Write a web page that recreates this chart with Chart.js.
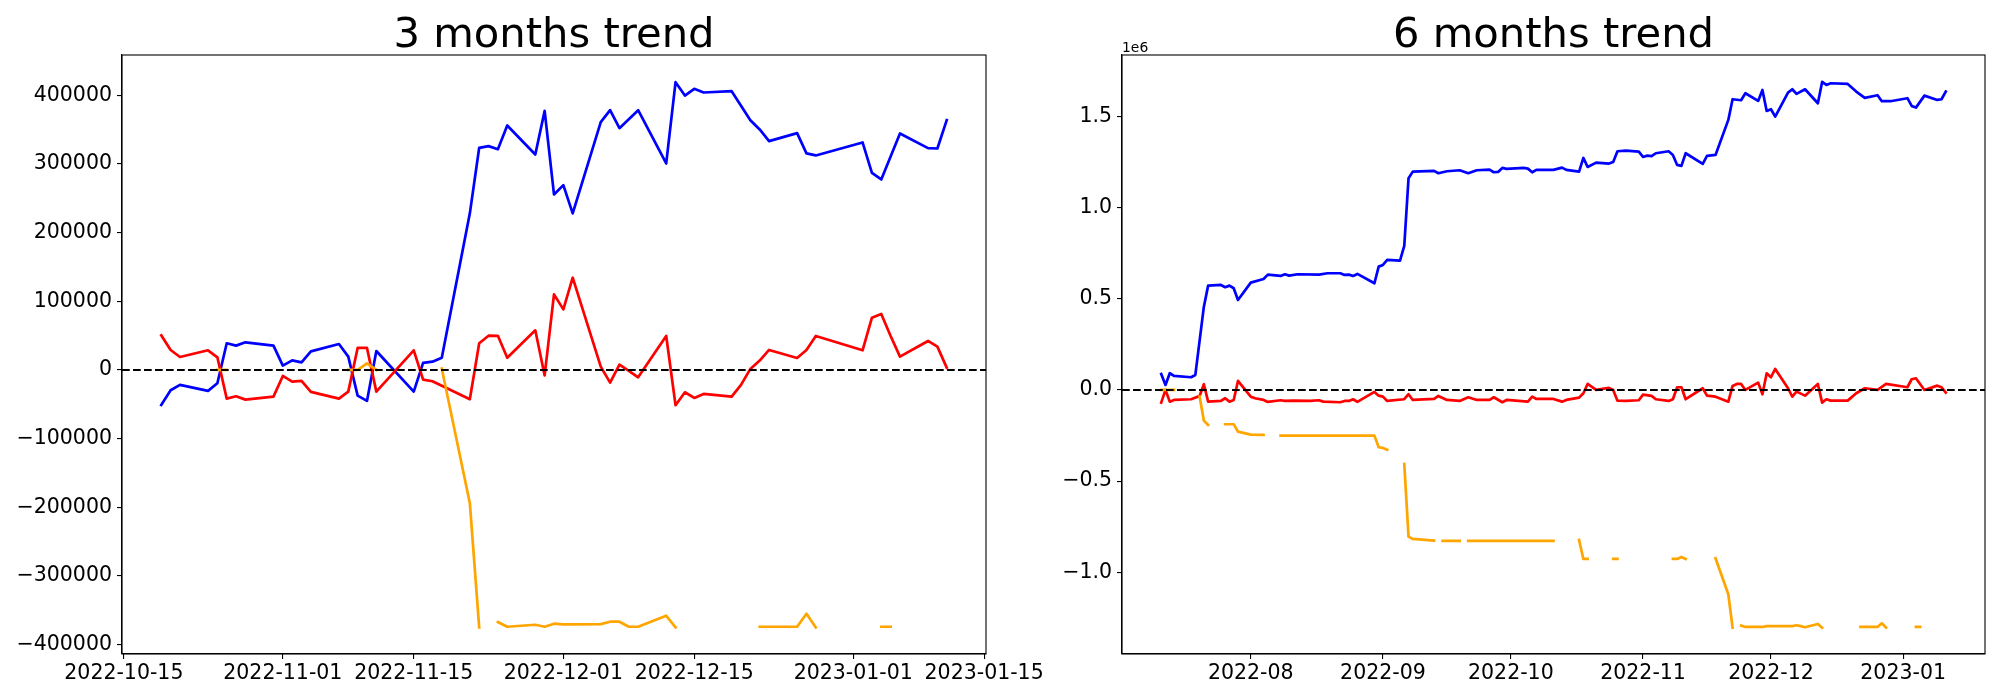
<!DOCTYPE html>
<html>
<head>
<meta charset="utf-8">
<title>Trend charts</title>
<script src="https://cdn.jsdelivr.net/npm/chart.js@4.4.1/dist/chart.umd.min.js"></script>
<style>
  html, body { margin: 0; padding: 0; background: #fff; }
  #wrap { position: relative; width: 2000px; height: 700px; overflow: hidden; }
  canvas { position: absolute; top: 0; }
  #leftChart { left: 0; }
  #rightChart { left: 1000px; }
</style>
</head>
<body>
<div id="wrap">
  <canvas id="leftChart" width="1100" height="700"></canvas>
  <canvas id="rightChart" width="1000" height="700"></canvas>
</div>
<script>
// ===================================
// DATA
// ===================================

// 3 months panel (shared dates)
const leftDates = [
  '2022-10-19','2022-10-20','2022-10-21','2022-10-24','2022-10-25','2022-10-26','2022-10-27','2022-10-28','2022-10-31',
  '2022-11-01','2022-11-02','2022-11-03','2022-11-04','2022-11-07','2022-11-08','2022-11-09','2022-11-10','2022-11-11',
  '2022-11-15','2022-11-16','2022-11-17','2022-11-18','2022-11-21','2022-11-22','2022-11-23','2022-11-24','2022-11-25',
  '2022-11-28','2022-11-29','2022-11-30','2022-12-01','2022-12-02','2022-12-05','2022-12-06','2022-12-07','2022-12-08',
  '2022-12-09','2022-12-12','2022-12-13','2022-12-14','2022-12-15','2022-12-16','2022-12-19','2022-12-20','2022-12-21',
  '2022-12-22','2022-12-23','2022-12-26','2022-12-27','2022-12-28','2023-01-02','2023-01-03','2023-01-04','2023-01-05',
  '2023-01-06','2023-01-09','2023-01-10','2023-01-11'
];
const leftBlue = [
  -51000, -29600, -21800, -30500, -19400, 38800, 35400, 40200, 35400,
  6300, 14000, 11100, 27100, 37800, 19400, -37300, -45100, 27600,
  -31500, 10200, 12100, 17900, 228000, 323400, 325800, 321400, 355900,
  313700, 377200, 255500, 269100, 227900, 360700, 378200, 352000, 365000,
  378200, 300600, 418900, 399500, 409200, 403900, 405800, 384700, 363600,
  350100, 333100, 344700, 315200, 312300, 331200, 287000, 277300, 310800,
  344200, 322900, 322400, 363600
];
const leftRed = [
  50400, 29100, 18900, 28600, 18400, -41700, -38300, -43200, -38800,
  -8700, -17000, -16000, -32000, -41700, -31500, 32000, 32000, -31500,
  28600, -14100, -16500, -23000, -42700, 38800, 49900, 49700, 17700,
  57700, -8000, 110000, 88200, 134300, 4800, -18400, 7800, -1500,
  -10700, 49500, -51400, -32500, -40700, -34900, -38800, -21800, 1500,
  13600, 29100, 17500, 29100, 49500, 28600, 76100, 81500, 49500,
  19400, 42200, 33900, 3400
];
const leftOrange = [
  null, null, null, null, 0, 0, null, null, null,
  null, null, null, null, null, 0, 0, 9700, 0,
  null, null, null, 1900, -193900, -374800, null, -367000, -373800,
  -370900, -373800, -369400, -370400, -370400, -370000, -366500, -366500, -373800,
  -373800, -357800, -374800, null, null, null, null, null, null,
  -373800, -373800, -373800, -354900, -374800, null, null, -373800, -373800,
  null, null, null, null
];

// 6 months panel
const rightBlueDates = [
  '2022-07-11','2022-07-12','2022-07-13','2022-07-14','2022-07-18','2022-07-19','2022-07-21','2022-07-22',
  '2022-07-25','2022-07-26','2022-07-27','2022-07-28','2022-07-29','2022-08-01','2022-08-04','2022-08-05',
  '2022-08-08','2022-08-09','2022-08-10','2022-08-12','2022-08-17','2022-08-19','2022-08-22','2022-08-23',
  '2022-08-24','2022-08-25','2022-08-26','2022-08-30','2022-08-31','2022-09-01','2022-09-02','2022-09-05',
  '2022-09-06','2022-09-07','2022-09-08','2022-09-13','2022-09-14','2022-09-16','2022-09-19','2022-09-21',
  '2022-09-23','2022-09-26','2022-09-27','2022-09-28','2022-09-29','2022-09-30','2022-10-04','2022-10-05',
  '2022-10-06','2022-10-07','2022-10-11','2022-10-13','2022-10-14','2022-10-17','2022-10-18','2022-10-19',
  '2022-10-21','2022-10-24','2022-10-25','2022-10-26','2022-10-28','2022-10-31','2022-11-01','2022-11-02',
  '2022-11-03','2022-11-04','2022-11-07','2022-11-08','2022-11-09','2022-11-10','2022-11-11','2022-11-15',
  '2022-11-16','2022-11-18','2022-11-21','2022-11-22','2022-11-24','2022-11-25','2022-11-28','2022-11-29',
  '2022-11-30','2022-12-01','2022-12-02','2022-12-05','2022-12-06','2022-12-07','2022-12-09','2022-12-12',
  '2022-12-13','2022-12-14','2022-12-15','2022-12-19','2022-12-21','2022-12-23','2022-12-26','2022-12-27',
  '2022-12-29','2023-01-02','2023-01-03','2023-01-04','2023-01-06','2023-01-09','2023-01-10','2023-01-11'
];
const rightBlue = [
  88000, 27400, 91600, 76800, 69700, 82300, 457000, 572400,
  576200, 563600, 572400, 558100, 493900, 588900, 609200, 632800,
  625600, 634900, 627300, 634900, 632800, 640400, 640400, 631100,
  632800, 625600, 636600, 585500, 676700, 686000, 713400, 709700,
  790300, 1161800, 1198100, 1201900, 1189300, 1200200, 1205700, 1189300,
  1205700, 1209100, 1194500, 1196400, 1218300, 1212800, 1218300, 1214600,
  1194500, 1207400, 1207400, 1220000, 1207400, 1198100, 1273200, 1223800,
  1247500, 1242000, 1251300, 1309900, 1313300, 1307800, 1278700, 1285800,
  1282600, 1298900, 1309900, 1289700, 1234800, 1229300, 1298900, 1240300,
  1284200, 1289700, 1481800, 1595300, 1589800, 1628200, 1586000, 1646400,
  1531200, 1540300, 1499900, 1631600, 1650000, 1624400, 1650000, 1573400,
  1690300, 1673800, 1683100, 1679300, 1637100, 1602500, 1617300, 1584400,
  1584400, 1600900, 1558600, 1549300, 1615100, 1591500, 1595300, 1637100
];

const rightRedDates = [
  '2022-07-11','2022-07-12','2022-07-13','2022-07-14','2022-07-18','2022-07-20','2022-07-21','2022-07-22',
  '2022-07-25','2022-07-26','2022-07-27','2022-07-28','2022-07-29','2022-08-01','2022-08-02','2022-08-04',
  '2022-08-05','2022-08-08','2022-08-09','2022-08-11','2022-08-15','2022-08-17','2022-08-18','2022-08-22',
  '2022-08-23','2022-08-24','2022-08-25','2022-08-26','2022-08-30','2022-08-31','2022-09-01','2022-09-02',
  '2022-09-06','2022-09-07','2022-09-08','2022-09-13','2022-09-14','2022-09-16','2022-09-19','2022-09-21',
  '2022-09-23','2022-09-26','2022-09-27','2022-09-29','2022-09-30','2022-10-05','2022-10-06','2022-10-07',
  '2022-10-11','2022-10-13','2022-10-14','2022-10-17','2022-10-18','2022-10-19','2022-10-21','2022-10-24',
  '2022-10-25','2022-10-26','2022-10-28','2022-10-31','2022-11-01','2022-11-03','2022-11-04','2022-11-07',
  '2022-11-08','2022-11-09','2022-11-10','2022-11-11','2022-11-15','2022-11-16','2022-11-18','2022-11-21',
  '2022-11-22','2022-11-23','2022-11-24','2022-11-25','2022-11-28','2022-11-29','2022-11-30','2022-12-01',
  '2022-12-02','2022-12-05','2022-12-06','2022-12-07','2022-12-09','2022-12-12','2022-12-13','2022-12-14',
  '2022-12-15','2022-12-19','2022-12-21','2022-12-23','2022-12-26','2022-12-28','2023-01-02','2023-01-03',
  '2023-01-04','2023-01-06','2023-01-09','2023-01-10','2023-01-11'
];
const rightRed = [
  -69700, 0, -64200, -54900, -51000, -32900, 31300, -64200,
  -60400, -45600, -64200, -54900, 49400, -36800, -45600, -54900,
  -65900, -56500, -60400, -58700, -60400, -56500, -64200, -67500,
  -60400, -60400, -51000, -65900, -11000, -31300, -36800, -60400,
  -51000, -23600, -54900, -49400, -32900, -54900, -60400, -40100,
  -54900, -54900, -40100, -67500, -54900, -64200, -36800, -49400,
  -49400, -64200, -54900, -42300, -18100, 32900, 0, 11000,
  0, -58700, -60400, -56500, -25800, -32900, -51000, -60400,
  -51000, 14800, 14800, -51000, 9300, -31300, -36800, -64200,
  22000, 32900, 32900, 0, 40100, -23600, 91600, 69700,
  115200, 9300, -36800, -9300, -31300, 32900, -69700, -51000,
  -58700, -58700, -18100, 9300, 0, 32900, 14800, 58700,
  64200, 0, 23600, 14800, -14800
];

// null marks a missing value: the line breaks there
const rightOrangeDates = [
  '2022-07-11','2022-07-12','2022-07-13','2022-07-14','2022-07-18','2022-07-20','2022-07-21','2022-07-22',
  '2022-07-25','2022-07-26','2022-07-27','2022-07-28','2022-07-29','2022-08-01','2022-08-04','2022-08-05',
  '2022-08-08','2022-08-30','2022-08-31','2022-09-01','2022-09-02','2022-09-05','2022-09-06','2022-09-07',
  '2022-09-08','2022-09-13','2022-09-14','2022-09-15','2022-09-19','2022-09-20','2022-09-21','2022-10-11',
  '2022-10-12','2022-10-17','2022-10-18','2022-10-19','2022-10-20','2022-10-25','2022-10-26','2022-10-27',
  '2022-11-08','2022-11-09','2022-11-10','2022-11-11','2022-11-14','2022-11-18','2022-11-21','2022-11-22',
  '2022-11-23','2022-11-24','2022-11-25','2022-11-29','2022-11-30','2022-12-06','2022-12-07','2022-12-08',
  '2022-12-09','2022-12-12','2022-12-13','2022-12-14','2022-12-22','2022-12-26','2022-12-27','2022-12-28',
  '2022-12-29','2023-01-04','2023-01-05'
];
const rightOrange = [
  0, 0, 0, 0, null, -36000, -168500, -192100,
  null, -188300, -188300, -188300, -228800, -245300, -247000, null,
  -250800, -250800, -314500, -318300, -327600, null, -406100, -805100,
  -817700, -827000, null, -828700, -828700, null, -828700, -828700,
  null, -823200, -927500, -927500, null, -927500, -927500, null,
  -927500, -927500, -916500, -927500, null, -923600, -1121200, -1304500,
  null, -1293500, -1300700, -1300700, -1296000, -1296000, -1291500, -1296000,
  -1302000, -1284200, -1304500, null, -1300700, -1300700, -1280500, -1304500,
  null, -1300700, -1300700
];

// axes
const leftXTicks = ['2022-10-15','2022-11-01','2022-11-15','2022-12-01','2022-12-15','2023-01-01','2023-01-15'];
const rightXTicks = ['2022-08-01','2022-09-01','2022-10-01','2022-11-01','2022-12-01','2023-01-01'];
const leftYTicks = [-400000, -300000, -200000, -100000, 0, 100000, 200000, 300000, 400000];
const rightYTicks = [-1000000, -500000, 0, 500000, 1000000, 1500000];
const leftXRange = ['2022-10-14', '2023-01-15'];   // plus the fractional margins below
const rightXRange = ['2022-07-01', '2023-01-20'];
const leftYRange = [-413500, 458500];
const rightYRange = [-1449000, 1838000];

const titles = ['3 months trend', '6 months trend'];
const FONT = '"DejaVu Sans", "Liberation Sans", sans-serif';

// ===================================
// HELPERS
// ===================================

function toDay(s) {
  const [y, m, d] = s.split('-').map(Number);
  return Date.UTC(y, m - 1, d) / 86400000;
}

function dayLabel(v, len) {
  return new Date(Math.round(v) * 86400000).toISOString().slice(0, len);
}

function minus(s) {
  return String(s).replace('-', '\u2212');
}

function toPoints(dates, values) {
  return dates.map((d, i) => ({ x: toDay(d), y: values[i] }));
}

function lineSet(data, color, order) {
  return {
    data,
    borderColor: color,
    borderWidth: 2.7,
    borderCapStyle: 'square',
    borderJoinStyle: 'round',
    pointRadius: 0,
    tension: 0,
    spanGaps: false,
    order
  };
}

function zeroLine(xMin, xMax) {
  return {
    data: [{ x: xMin, y: 0 }, { x: xMax, y: 0 }],
    borderColor: '#000',
    borderWidth: 2.1,
    borderDash: [7.7, 3.3],
    pointRadius: 0,
    order: 0
  };
}

// frame, title and offset text
const panelText = {
  id: 'panelText',
  afterDraw(chart, args, opts) {
    const { ctx, chartArea: a } = chart;
    ctx.save();
    ctx.strokeStyle = '#000';
    ctx.lineWidth = 1.1;
    ctx.strokeRect(a.left, a.top, a.right - a.left, a.bottom - a.top);
    ctx.fillStyle = '#000';
    ctx.textBaseline = 'alphabetic';
    ctx.textAlign = 'center';
    ctx.font = '41.7px ' + FONT;
    ctx.fillText(opts.title, (a.left + a.right) / 2, a.top - 8.3);
    if (opts.offset) {
      ctx.textAlign = 'left';
      ctx.font = '13.9px ' + FONT;
      ctx.fillText(opts.offset, a.left, a.top - 3.5);
    }
    ctx.restore();
  }
};

function makeChart(id, cfg) {
  const ctx = document.getElementById(id).getContext('2d');
  const tickFont = { family: FONT, size: 20.5 };

  return new Chart(ctx, {
    type: 'line',
    data: { datasets: cfg.datasets },
    plugins: [panelText],
    options: {
      responsive: false,
      animation: false,
      events: [],
      layout: { padding: { left: 0, right: cfg.padRight, top: 55, bottom: 0 }, autoPadding: false },
      plugins: {
        legend: { display: false },
        tooltip: { enabled: false },
        title: { display: false },
        panelText: { title: cfg.title, offset: cfg.offset }
      },
      scales: {
        x: {
          type: 'linear',
          min: cfg.xMin,
          max: cfg.xMax,
          afterFit: s => { s.height = 46; },
          afterBuildTicks: s => { s.ticks = cfg.xTicks.map(v => ({ value: v })); },
          ticks: {
            font: tickFont, color: '#000', padding: 2,
            maxRotation: 0, minRotation: 0, autoSkip: false,
            callback: v => dayLabel(v, cfg.xLabelLen)
          },
          grid: { drawOnChartArea: false, drawTicks: true, tickLength: 5, color: '#000', lineWidth: 1.1 },
          border: { display: true, color: '#000', width: 1.1 }
        },
        y: {
          type: 'linear',
          min: cfg.yMin,
          max: cfg.yMax,
          afterFit: s => { s.width = 122; },
          afterBuildTicks: s => { s.ticks = cfg.yTicks.map(v => ({ value: v })); },
          ticks: { font: tickFont, color: '#000', padding: 5, callback: cfg.yLabel },
          grid: { drawOnChartArea: false, drawTicks: true, tickLength: 5, color: '#000', lineWidth: 1.1 },
          border: { display: true, color: '#000', width: 1.1 }
        }
      }
    }
  });
}

// ===================================
// RENDER
// ===================================

const leftMin = toDay(leftXRange[0]) + 0.8;
const leftMax = toDay(leftXRange[1]) + 0.2;
makeChart('leftChart', {
  title: titles[0],
  padRight: 114,
  xMin: leftMin, xMax: leftMax,
  yMin: leftYRange[0], yMax: leftYRange[1],
  xTicks: leftXTicks.map(toDay), xLabelLen: 10,
  yTicks: leftYTicks,
  yLabel: v => minus(v),
  datasets: [
    lineSet(toPoints(leftDates, leftBlue), '#0000ff', 4),
    lineSet(toPoints(leftDates, leftRed), '#ff0000', 3),
    lineSet(toPoints(leftDates, leftOrange), '#ffa500', 2),
    zeroLine(leftMin, leftMax)
  ]
});

const rightMin = toDay(rightXRange[0]) + 0.8;
const rightMax = toDay(rightXRange[1]) + 0.2;
makeChart('rightChart', {
  title: titles[1],
  offset: '1e6',
  padRight: 15,
  xMin: rightMin, xMax: rightMax,
  yMin: rightYRange[0], yMax: rightYRange[1],
  xTicks: rightXTicks.map(toDay), xLabelLen: 7,
  yTicks: rightYTicks,
  yLabel: v => minus((v / 1e6).toFixed(1)),
  datasets: [
    lineSet(toPoints(rightBlueDates, rightBlue), '#0000ff', 4),
    lineSet(toPoints(rightRedDates, rightRed), '#ff0000', 3),
    lineSet(toPoints(rightOrangeDates, rightOrange), '#ffa500', 2),
    zeroLine(rightMin, rightMax)
  ]
});
</script>
</body>
</html>
